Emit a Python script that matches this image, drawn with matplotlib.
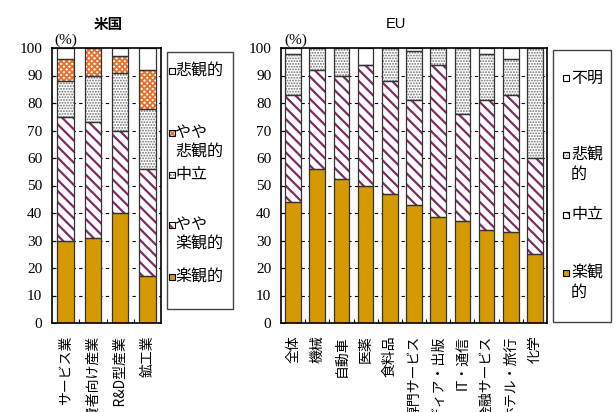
import numpy as np
import matplotlib
matplotlib.use("Agg")
import matplotlib.pyplot as plt
from matplotlib.patches import Rectangle

plt.rcParams["font.family"] = "serif"
plt.rcParams["font.serif"] = ["Liberation Serif", "DejaVu Serif"]

# ---------------- data ----------------
us_title = "米国"
us_cats = ["サービス業", "消費者向け産業", "ハイテク・R&D型産業", "鉱工業"]
us_series_names = ["楽観的", "やや\n楽観的", "中立", "やや\n悲観的", "悲観的"]
us_optimistic = [30, 31, 40, 17]
us_some_opt = [45, 42, 30, 39]
us_neutral = [13, 17, 21, 22]
us_some_pess = [8, 10, 6, 14]
us_pessimistic = [4, 0, 3, 8]

eu_title = "EU"
eu_cats = ["全体", "機械", "自動車", "医薬", "食料品", "専門サービス",
           "メディア・出版", "IT・通信", "金融サービス", "ホテル・旅行", "化学"]
eu_series_names = ["楽観\n的", "中立", "悲観\n的", "不明"]
eu_optimistic = [44, 56, 52.5, 50, 47, 43, 38.5, 37, 34, 33, 25]
eu_neutral = [39, 36, 37.5, 44, 41, 38, 55.5, 39, 47, 50, 35]
eu_pessimistic = [15, 8, 10, 0, 12, 18, 6, 24, 17, 13, 40]
eu_unknown = [2, 0, 0, 6, 0, 1, 0, 0, 2, 4, 0]

yticks = [0, 10, 20, 30, 40, 50, 60, 70, 80, 90, 100]

# ---------------- styles ----------------
GOLD = "#D49A00"
PURPLE = "#7E2C63"
ORANGE = "#E8702A"
GRAY = "#707070"
st_opt = dict(face=GOLD, hatch=None, hc=GOLD, hlw=1.0)
st_sopt = dict(face="white", hatch="\\\\\\", hc=PURPLE, hlw=1.6)
st_neu = dict(face="white", hatch="......", hc=GRAY, hlw=0.9)
st_spess = dict(face="white", hatch="xxxxxx", hc=ORANGE, hlw=1.3)
st_pess = dict(face="white", hatch=None, hc="white", hlw=1.0)

W, H = 615, 412
fig = plt.figure(figsize=(W / 100, H / 100), dpi=100)

SERIF = "Liberation Serif"
JP = ["Noto Sans CJK JP", "DejaVu Sans"]


def fx(x):
    return x / W


def fy(y):
    return 1 - y / H


def set_hlw(p, lw):
    if hasattr(p, "set_hatch_linewidth"):
        p.set_hatch_linewidth(lw)


def stacked(ax, cats, series, styles, width):
    x = np.arange(len(cats))
    bottom = np.zeros(len(cats))
    for vals, st in zip(series, styles):
        vals = np.asarray(vals, dtype=float)
        bars = ax.bar(x, vals, width, bottom=bottom, color=st["face"],
                      edgecolor=st["hc"], hatch=st["hatch"], linewidth=0, zorder=2)
        for b in bars:
            set_hlw(b, st["hlw"])
        ax.bar(x, vals, width, bottom=bottom, fill=False, edgecolor="#333333",
               linewidth=0.9, zorder=3)
        bottom += vals
    ax.set_xlim(-0.5, len(cats) - 0.5)
    ax.set_ylim(0, 100)
    ax.tick_params(axis="y", direction="in", length=3, pad=7, width=0.8)
    ax.tick_params(axis="x", which="major", length=0, pad=9)
    ax.tick_params(axis="x", which="minor", direction="in", length=3, width=0.8)
    ax.set_yticks(yticks)
    ax.set_yticklabels([str(t) for t in yticks], fontfamily=SERIF, fontsize=11)
    ax.set_xticks(x)
    ax.set_xticklabels(cats, rotation=90, fontfamily=JP, fontsize=10)
    ax.set_xticks(np.arange(len(cats) - 1) + 0.5, minor=True)
    for t in yticks[1:-1]:
        ax.axhline(t, color="black", linestyle=(0, (3, 3)), linewidth=0.8, zorder=1)
    for s in ax.spines.values():
        s.set_linewidth(1.2)
        s.set_color("black")
        s.set_zorder(4)


ax1 = fig.add_axes([fx(52), 1 - 323 / H, fx(161) - fx(52), 275 / H])
stacked(ax1, us_cats,
        [us_optimistic, us_some_opt, us_neutral, us_some_pess, us_pessimistic],
        [st_opt, st_sopt, st_neu, st_spess, st_pess], 0.61)

ax2 = fig.add_axes([fx(281), 1 - 323 / H, fx(547) - fx(281), 275 / H])
stacked(ax2, eu_cats,
        [eu_optimistic, eu_neutral, eu_pessimistic, eu_unknown],
        [st_opt, st_sopt, st_neu, st_pess], 0.65)

# titles and unit labels
fig.text(fx(108), fy(24), us_title, ha="center", va="center", fontfamily=JP,
         fontsize=10.5, fontweight="bold")
fig.text(fx(396), fy(24), eu_title, ha="center", va="center",
         fontfamily=["Liberation Sans", "DejaVu Sans"], fontsize=10.5)
fig.text(fx(66), fy(40), "(%)", ha="center", va="center", fontfamily=SERIF, fontsize=11)
fig.text(fx(296), fy(40), "(%)", ha="center", va="center", fontfamily=SERIF, fontsize=11)


def legend_box(x0, y0, x1, y1, entries, mx, tx, lsp):
    fig.add_artist(Rectangle((fx(x0), fy(y1)), fx(x1) - fx(x0), (y1 - y0) / H,
                             transform=fig.transFigure, facecolor="white",
                             edgecolor="#444444", linewidth=1.0, zorder=5))
    for label, st, yc in entries:
        ms = 6
        r = Rectangle((fx(mx), fy(yc + ms / 2)), ms / W, ms / H,
                      transform=fig.transFigure, facecolor=st["face"],
                      edgecolor=st["hc"] if st["hatch"] else "none",
                      hatch=st["hatch"], linewidth=0, zorder=6)
        set_hlw(r, st["hlw"])
        fig.add_artist(r)
        fig.add_artist(Rectangle((fx(mx), fy(yc + ms / 2)), ms / W, ms / H,
                                 transform=fig.transFigure, fill=False,
                                 edgecolor="black", linewidth=0.8, zorder=7))
        for i, line in enumerate(label.split("\n")):
            fig.text(fx(tx), fy(yc + i * lsp), line, ha="left", va="center",
                     fontfamily=JP, fontsize=11.5, zorder=7)


us_styles_legend = [st_pess, st_spess, st_neu, st_sopt, st_opt]
us_names_legend = list(reversed(us_series_names))
us_ys = [71, 133, 175, 225, 277]
legend_box(167, 52, 233, 309, list(zip(us_names_legend, us_styles_legend, us_ys)),
           168.5, 175, 19)

eu_styles_legend = [st_pess, st_neu, st_sopt, st_opt]
eu_names_legend = list(reversed(eu_series_names))
eu_ys = [78, 155, 215, 273]
legend_box(553, 50, 611, 322, list(zip(eu_names_legend, eu_styles_legend, eu_ys)),
           563, 571, 19)

fig.savefig("out.png", dpi=100)
